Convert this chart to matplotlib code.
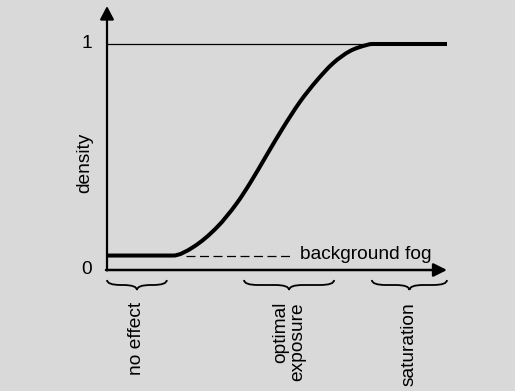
import matplotlib
matplotlib.use("Agg")
import matplotlib.pyplot as plt
from matplotlib.path import Path
from matplotlib.patches import PathPatch

plt.rcParams['font.family'] = ['Liberation Sans', 'DejaVu Sans']

# Characteristic curve (exposure -> density)
exposure = [0.0, 0.194, 0.253, 0.324, 0.382, 0.421, 0.471, 0.518, 0.568,
            0.618, 0.665, 0.715, 0.765, 0.779, 1.0]
density = [0.064, 0.064, 0.101, 0.190, 0.296, 0.385, 0.512, 0.630, 0.745,
           0.840, 0.915, 0.969, 0.996, 1.0, 1.0]
fog_level = 0.064
fog_dash = [0.232, 0.547]
saturation_line = [0.0, 0.779]

y_ticks = [0, 1]
y_ticklabels = ["0", "1"]

regions = [(0.0, 0.176, "no effect"),
           (0.403, 0.668, "optimal\nexposure"),
           (0.779, 1.0, "saturation")]

BG = "#d9d9d9"
fig = plt.figure(figsize=(5.15, 3.91), dpi=100, facecolor=BG)
ax = fig.add_axes([0, 0, 1, 1])
ax.set_facecolor(BG)
ax.set_xlim(-107 / 340, (515 - 107) / 340)
ax.set_ylim((270 - 391) / 226, 270 / 226)
ax.axis("off")

fs = 13.8

# axes with arrows
ax.annotate("", xy=(0, 1.168), xytext=(0, -0.002),
            arrowprops=dict(arrowstyle="-|>,head_length=0.8,head_width=0.42",
                            lw=1.6, color="black", shrinkA=0, shrinkB=0),
            annotation_clip=False)
ax.annotate("", xy=(1.0, 0), xytext=(-0.003, 0),
            arrowprops=dict(arrowstyle="-|>,head_length=0.8,head_width=0.4",
                            lw=1.8, color="black", shrinkA=0, shrinkB=0),
            annotation_clip=False)

# thin line at density 1
ax.plot(saturation_line, [1, 1], color="black", lw=0.9, solid_capstyle="butt")

# curve: smooth cubic (Hermite in x) through the read points, flat ends straight
pts = list(zip(exposure, density))
n = len(pts)
first, last = 1, n - 2
secants = [(pts[i + 1][1] - pts[i][1]) / (pts[i + 1][0] - pts[i][0])
           for i in range(n - 1)]


def slope(i):
    if i == first or i == last:
        return 0.0
    return (secants[i - 1] + secants[i]) / 2


verts = [pts[0], pts[1]]
codes = [Path.MOVETO, Path.LINETO]
for i in range(first, last):
    (x0, y0), (x1, y1) = pts[i], pts[i + 1]
    dx = x1 - x0
    m0, m1 = slope(i), slope(i + 1)
    verts += [(x0 + dx / 3, y0 + m0 * dx / 3),
              (x1 - dx / 3, y1 - m1 * dx / 3), (x1, y1)]
    codes += [Path.CURVE4] * 3
verts.append(pts[-1])
codes.append(Path.LINETO)
ax.add_patch(PathPatch(Path(verts, codes), fill=False, lw=2.9,
                       edgecolor="black", capstyle="butt", joinstyle="round"))

# fog dashed line and label
ax.plot(fog_dash, [fog_level - 0.002] * 2, color="black", lw=0.9,
        dashes=(7.2, 3.6))
ax.text(0.567, fog_level + 0.004, "background fog", fontsize=fs,
        ha="left", va="center")

# tick labels
for t, lab in zip(y_ticks, y_ticklabels):
    ax.text(-0.045, t, lab, fontsize=fs, ha="right", va="center")

ax.text(-0.065, (270 - 163) / 226, "density", fontsize=fs, rotation=90,
        ha="center", va="center")

# braces
y_top = -10 / 226
y_flat = -15 / 226
y_tip = -20 / 226
r = 14 / 340
for x0, x1, lab in regions:
    xm = (x0 + x1) / 2
    bv = [(x0, y_top), (x0, y_flat), (x0 + r, y_flat),
          (xm - r, y_flat),
          (xm, y_flat), (xm, y_tip),
          (xm, y_flat), (xm + r, y_flat),
          (x1 - r, y_flat),
          (x1, y_flat), (x1, y_top)]
    bc = [Path.MOVETO, Path.CURVE3, Path.CURVE3,
          Path.LINETO,
          Path.CURVE3, Path.CURVE3,
          Path.CURVE3, Path.CURVE3,
          Path.LINETO,
          Path.CURVE3, Path.CURVE3]
    ax.add_patch(PathPatch(Path(bv, bc), fill=False, lw=1.3,
                           edgecolor="black", capstyle="butt"))
    ax.text(xm, -32 / 226, lab, fontsize=fs, rotation=90, ha="center",
            va="top", multialignment="right", linespacing=1.0)

fig.savefig("out.png", dpi=100, facecolor=BG)
